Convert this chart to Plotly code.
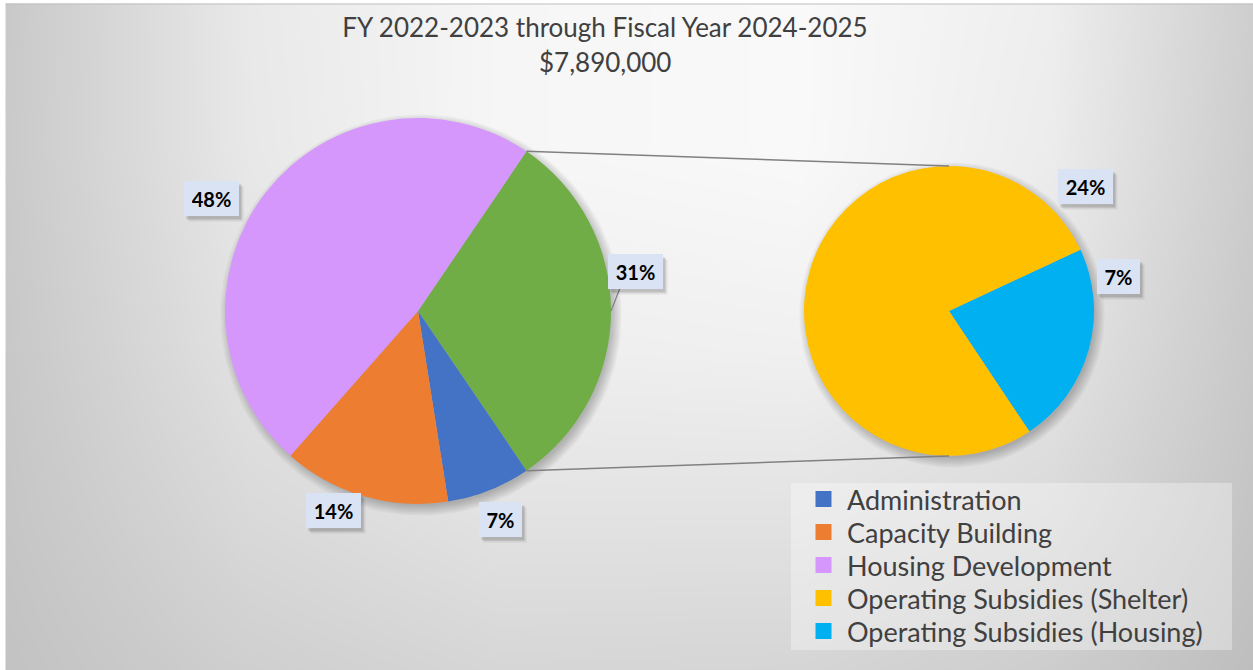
import numpy as np
import plotly.graph_objects as go

W, H = 1253, 670

# ---------------- data ----------------
title_line1 = "FY 2022-2023 through Fiscal Year 2024-2025"
title_line2 = "$7,890,000"

main_labels = ["Administration", "Capacity Building", "Housing Development"]
main_values = [7, 14, 48]
sub_labels = ["Operating Subsidies (Shelter)", "Operating Subsidies (Housing)"]
sub_values = [24, 7]
other_label = "Other"
legend_labels = main_labels + sub_labels

# ---------------- styles ----------------
colors = {
    "Administration": "#4472C4",
    "Capacity Building": "#ED7D31",
    "Housing Development": "#D597FC",
    "Operating Subsidies (Shelter)": "#FFC000",
    "Operating Subsidies (Housing)": "#00B0F0",
    "Other": "#70AD47",
}
FONT = "Lato, 'Open Sans', sans-serif"
TEXT_COL = "#404040"

# pie geometry in pixels (centre x, centre y, radius)
MAIN_C, MAIN_R = (418, 311), 193
SUB_C, SUB_R = (949, 311), 145
SUB_ROTATION = 65

# data label box centres (pixels)
label_pos = {
    "Housing Development": (211, 198),
    "Other": (635, 271),
    "Capacity Building": (333, 510),
    "Administration": (500, 519),
    "Operating Subsidies (Shelter)": (1085, 186),
    "Operating Subsidies (Housing)": (1118, 276),
}
LBL_PAD, LBL_H = 8, 19

# legend layout (pixels)
LEG_BOX = (791, 483, 1232, 650)
LEG_SQ_X, LEG_TXT_X, LEG_Y0, LEG_DY, LEG_SQ = 823.5, 845, 499, 33, 16

other_value = sum(sub_values)
total = sum(main_values) + other_value


def domain(c, r):
    return dict(x=[(c[0] - r) / W, (c[0] + r) / W],
                y=[1 - (c[1] + r) / H, 1 - (c[1] - r) / H])


fig = go.Figure()

# ---------------- background gradient ----------------
bg_x = [0, 250, 500, 800, 1050, 1253]
bg_y = [0, 150, 350, 520, 670]
bg_z = [
    [200, 233, 246, 249, 238, 206],
    [201, 232, 246, 249, 236, 204],
    [199, 226, 238, 240, 228, 200],
    [197, 217, 226, 226, 217, 196],
    [194, 207, 214, 213, 205, 190],
]
fig.add_trace(go.Heatmap(
    x=bg_x, y=bg_y, z=bg_z, zsmooth="best", zmin=0, zmax=255,
    colorscale=[[0, "rgb(0,0,0)"], [1, "rgb(255,255,255)"]],
    showscale=False, hoverinfo="skip", showlegend=False,
))

# ---------------- soft pie shadows ----------------
theta = np.linspace(0, 2 * np.pi, 181)
for (c, r) in [(MAIN_C, MAIN_R), (SUB_C, SUB_R)]:
    for k in range(7):
        rr = r - 2 + 1.6 * k
        fig.add_trace(go.Scatter(
            x=c[0] + 3 + rr * np.cos(theta), y=c[1] + 4 + rr * np.sin(theta),
            mode="lines", fill="toself", line=dict(width=0),
            fillcolor="rgba(0,0,0,0.035)", hoverinfo="skip", showlegend=False,
        ))

# ---------------- pies ----------------
main_order = [other_label] + main_labels
main_vals = [other_value] + main_values
main_rotation = 90 - other_value / total * 180
fig.add_trace(go.Pie(
    labels=main_order, values=main_vals, sort=False, direction="clockwise",
    rotation=main_rotation, domain=domain(MAIN_C, MAIN_R),
    marker=dict(colors=[colors[l] for l in main_order], line=dict(width=0)),
    textinfo="none", showlegend=False,
))
sub_order = sub_labels[::-1]
sub_vals = sub_values[::-1]
fig.add_trace(go.Pie(
    labels=sub_order, values=sub_vals, sort=False, direction="clockwise",
    rotation=SUB_ROTATION, domain=domain(SUB_C, SUB_R),
    marker=dict(colors=[colors[l] for l in sub_order], line=dict(width=0)),
    textinfo="none", showlegend=False,
))

# ---------------- shapes ----------------
shapes = []
half = other_value / total * 180
a_top = np.radians(90 - half)
a_bot = np.radians(90 + half)
for a, sy in [(a_top, SUB_C[1] - SUB_R), (a_bot, SUB_C[1] + SUB_R)]:
    shapes.append(dict(
        type="line", xref="x", yref="y",
        x0=MAIN_C[0] + MAIN_R * np.sin(a), y0=MAIN_C[1] - MAIN_R * np.cos(a),
        x1=SUB_C[0], y1=sy, line=dict(color="#808080", width=1.5), layer="above",
    ))
lx, ly = label_pos[other_label]
shapes.append(dict(type="line", xref="x", yref="y",
                   x0=lx - 15, y0=ly + 17, x1=MAIN_C[0] + MAIN_R, y1=MAIN_C[1],
                   line=dict(color="#808080", width=1.2), layer="above"))
# legend background
shapes.append(dict(type="rect", xref="x", yref="y", x0=LEG_BOX[0], y0=LEG_BOX[1],
                   x1=LEG_BOX[2], y1=LEG_BOX[3],
                   fillcolor="rgba(255,255,255,0.33)", line=dict(width=0), layer="above"))
# white frame strips and top edge line
shapes.append(dict(type="rect", xref="x", yref="y", x0=0, y0=0, x1=W, y1=3.5,
                   fillcolor="white", line=dict(width=0), layer="above"))
shapes.append(dict(type="rect", xref="x", yref="y", x0=0, y0=0, x1=5.5, y1=H,
                   fillcolor="white", line=dict(width=0), layer="above"))
shapes.append(dict(type="line", xref="x", yref="y", x0=5.5, y0=4, x1=W, y1=4,
                   line=dict(color="#c0c0c0", width=1), layer="above"))

# ---------------- annotations ----------------
ann = []
pct = {other_label: other_value}
for l, v in zip(main_labels, main_values):
    pct[l] = v
for l, v in zip(sub_labels, sub_values):
    pct[l] = v
for lab, (px, py) in label_pos.items():
    s = f"{round(pct[lab] / total * 100)}%"
    tw = 12 * len(s) + 3
    bw, bh = tw + 2 * LBL_PAD, LBL_H + 2 * LBL_PAD
    for dx, dy, a in [(5, 6, 0.07), (3, 4, 0.15)]:
        shapes.append(dict(type="rect", xref="x", yref="y",
                           x0=px - bw / 2 + dx, x1=px + bw / 2 + dx,
                           y0=py - bh / 2 + dy, y1=py + bh / 2 + dy,
                           fillcolor=f"rgba(0,0,0,{a})", line=dict(width=0), layer="above"))
    ann.append(dict(x=px, y=py, xref="x", yref="y", text=f"<b>{s}</b>", showarrow=False,
                    font=dict(family=FONT, size=20, color="#000000"),
                    bgcolor="#DAE3F3", borderpad=LBL_PAD, borderwidth=0,
                    width=tw, height=LBL_H))

# legend entries
for i, lab in enumerate(legend_labels):
    yy = LEG_Y0 + LEG_DY * i
    shapes.append(dict(type="rect", xref="x", yref="y",
                       x0=LEG_SQ_X - LEG_SQ / 2, x1=LEG_SQ_X + LEG_SQ / 2,
                       y0=yy - LEG_SQ / 2, y1=yy + LEG_SQ / 2,
                       fillcolor=colors[lab], line=dict(width=0), layer="above"))
    ann.append(dict(x=LEG_TXT_X, y=yy, xref="x", yref="y", text=lab, showarrow=False,
                    xanchor="left", yanchor="middle",
                    font=dict(family=FONT, size=27, color=TEXT_COL)))

ann.append(dict(x=605, y=62, xref="x", yref="y", text=title_line2, showarrow=False,
                font=dict(family=FONT, size=26, color=TEXT_COL)))

fig.update_layout(
    width=W, height=H, margin=dict(l=0, r=0, t=0, b=0),
    paper_bgcolor="white", plot_bgcolor="white",
    title=dict(text=title_line1, x=605 / W, xanchor="center", y=1 - 28 / H, yanchor="middle",
               yref="container", font=dict(family=FONT, size=26, color=TEXT_COL)),
    xaxis=dict(range=[0, W], visible=False, fixedrange=True, domain=[0, 1]),
    yaxis=dict(range=[H, 0], visible=False, fixedrange=True, domain=[0, 1]),
    showlegend=False,
    shapes=shapes, annotations=ann,
)

fig.write_html("out.html", config={"displayModeBar": False},
               post_script="document.body.style.margin='0';")
